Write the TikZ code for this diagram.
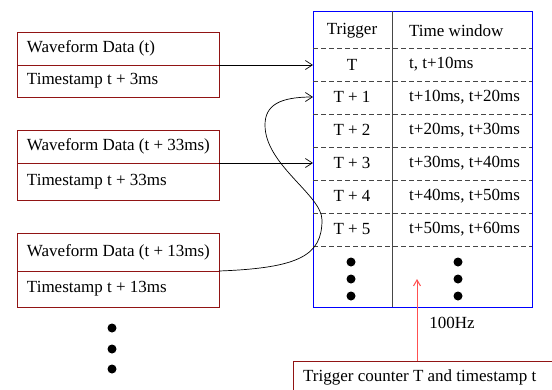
\documentclass[tikz,border=0pt]{standalone}
\usepackage{fontspec}
\setmainfont{Liberation Serif}
\usetikzlibrary{arrows.meta}
\definecolor{boxred}{RGB}{145,20,20}
\definecolor{dashgray}{RGB}{70,70,70}
\definecolor{arrred}{RGB}{255,80,80}
\newcommand\lbox[1]{\makebox[182pt][l]{#1}}
\begin{document}
\begin{tikzpicture}[x=1pt,y=-1pt,
  font=\fontsize{17}{20}\selectfont,
  half/.style={draw=boxred, line width=0.8pt, minimum width=202pt,
    inner xsep=10pt, inner ysep=0pt, anchor=north west, outer sep=0pt},
  arr/.style={line width=0.7pt, -{Straight Barb[length=7pt,width=9pt]}},
  rowdash/.style={dashgray, line width=0.8pt, dash pattern=on 5pt off 3pt},
  cell/.style={inner sep=0pt},
  dot/.style={circle, fill=black, inner sep=0pt, minimum size=9pt}
]
\useasboundingbox (0,0) rectangle (552,389);

% left boxes
\node[half, minimum height=33pt] (w1a) at (17,32) {\lbox{Waveform Data (t)}};
\node[half, minimum height=32pt] (w1b) at (17,65) {\lbox{Timestamp t + 3ms}};
\node[half, minimum height=33pt] (w2a) at (17,130) {\lbox{Waveform Data (t + 33ms)}};
\node[half, minimum height=37pt] (w2b) at (17,163) {\lbox{Timestamp t + 33ms}};
\node[half, minimum height=38pt] (w3a) at (17,233) {\lbox{Waveform Data (t + 13ms)}};
\node[half, minimum height=36pt] (w3b) at (17,271) {\lbox{Timestamp t + 13ms}};

\node[dot] (ld1) at (112,328) {};
\node[dot] (ld2) at (112,349) {};
\node[dot] (ld3) at (112,369) {};

% table
\node[draw=blue, line width=0.9pt, minimum width=219pt, minimum height=296pt,
  anchor=north west, inner sep=0pt, outer sep=0pt] (tbl) at (313,11) {};
\coordinate (colt) at (392,11);
\draw[dashgray, line width=0.8pt] (colt) -- (colt |- tbl.south);
\foreach \y in {48,81,114,147,180,213,246}{
  \draw[rowdash] (tbl.west |- 0,\y) -- (tbl.east |- 0,\y);
}
\node[cell] (h1) at (352,31) {Trigger};
\node[cell, anchor=west] (h2) at (409,31) {Time window};
\node[cell] (r0a) at (352,65) {T};
\node[cell, anchor=west] (r0b) at (409,64) {t, t+10ms};
\node[cell] (r1a) at (352,97) {T + 1};
\node[cell, anchor=west] (r1b) at (409,97) {t+10ms, t+20ms};
\node[cell] (r2a) at (352,130) {T + 2};
\node[cell, anchor=west] (r2b) at (409,130) {t+20ms, t+30ms};
\node[cell] (r3a) at (352,163) {T + 3};
\node[cell, anchor=west] (r3b) at (409,163) {t+30ms, t+40ms};
\node[cell] (r4a) at (352,196) {T + 4};
\node[cell, anchor=west] (r4b) at (409,196) {t+40ms, t+50ms};
\node[cell] (r5a) at (352,229) {T + 5};
\node[cell, anchor=west] (r5b) at (409,229) {t+50ms, t+60ms};
\node[dot] (td1) at (351,262) {};
\node[dot] (td2) at (351,279) {};
\node[dot] (td3) at (351,296) {};
\node[dot] (tw1) at (458,262) {};
\node[dot] (tw2) at (458,279) {};
\node[dot] (tw3) at (458,296) {};

% arrows
\coordinate (e0) at (tbl.west |- w1b.north);
\coordinate (e1) at (313,97);
\coordinate (e3) at (tbl.west |- w2b.north);
\draw[arr] (w1b.north east) -- (e0);
\draw[arr] (w2b.north east) -- (e3);
\draw[arr] (w3b.north east) .. controls (300,268) and (322,255) .. (322,220)
  .. controls (322,195) and (265,165) .. (265,125)
  .. controls (265,105) and (280,97) .. (e1);

% trigger counter
\node[draw=boxred, line width=0.8pt, anchor=north west, minimum width=300pt,
  minimum height=60pt, inner sep=0pt, outer sep=0pt] (trig) at (293,361) {};
\node[anchor=west, inner sep=0pt] (trigtxt) at (303,377) {Trigger counter T and timestamp t};
\coordinate (rt) at (417,279);
\draw[arrred, line width=1pt, -{Straight Barb[length=6pt,width=7pt]}] (trig.north -| rt) -- (rt);
\node[inner sep=0pt] (hz) at (452,323) {100Hz};
\end{tikzpicture}
\end{document}
